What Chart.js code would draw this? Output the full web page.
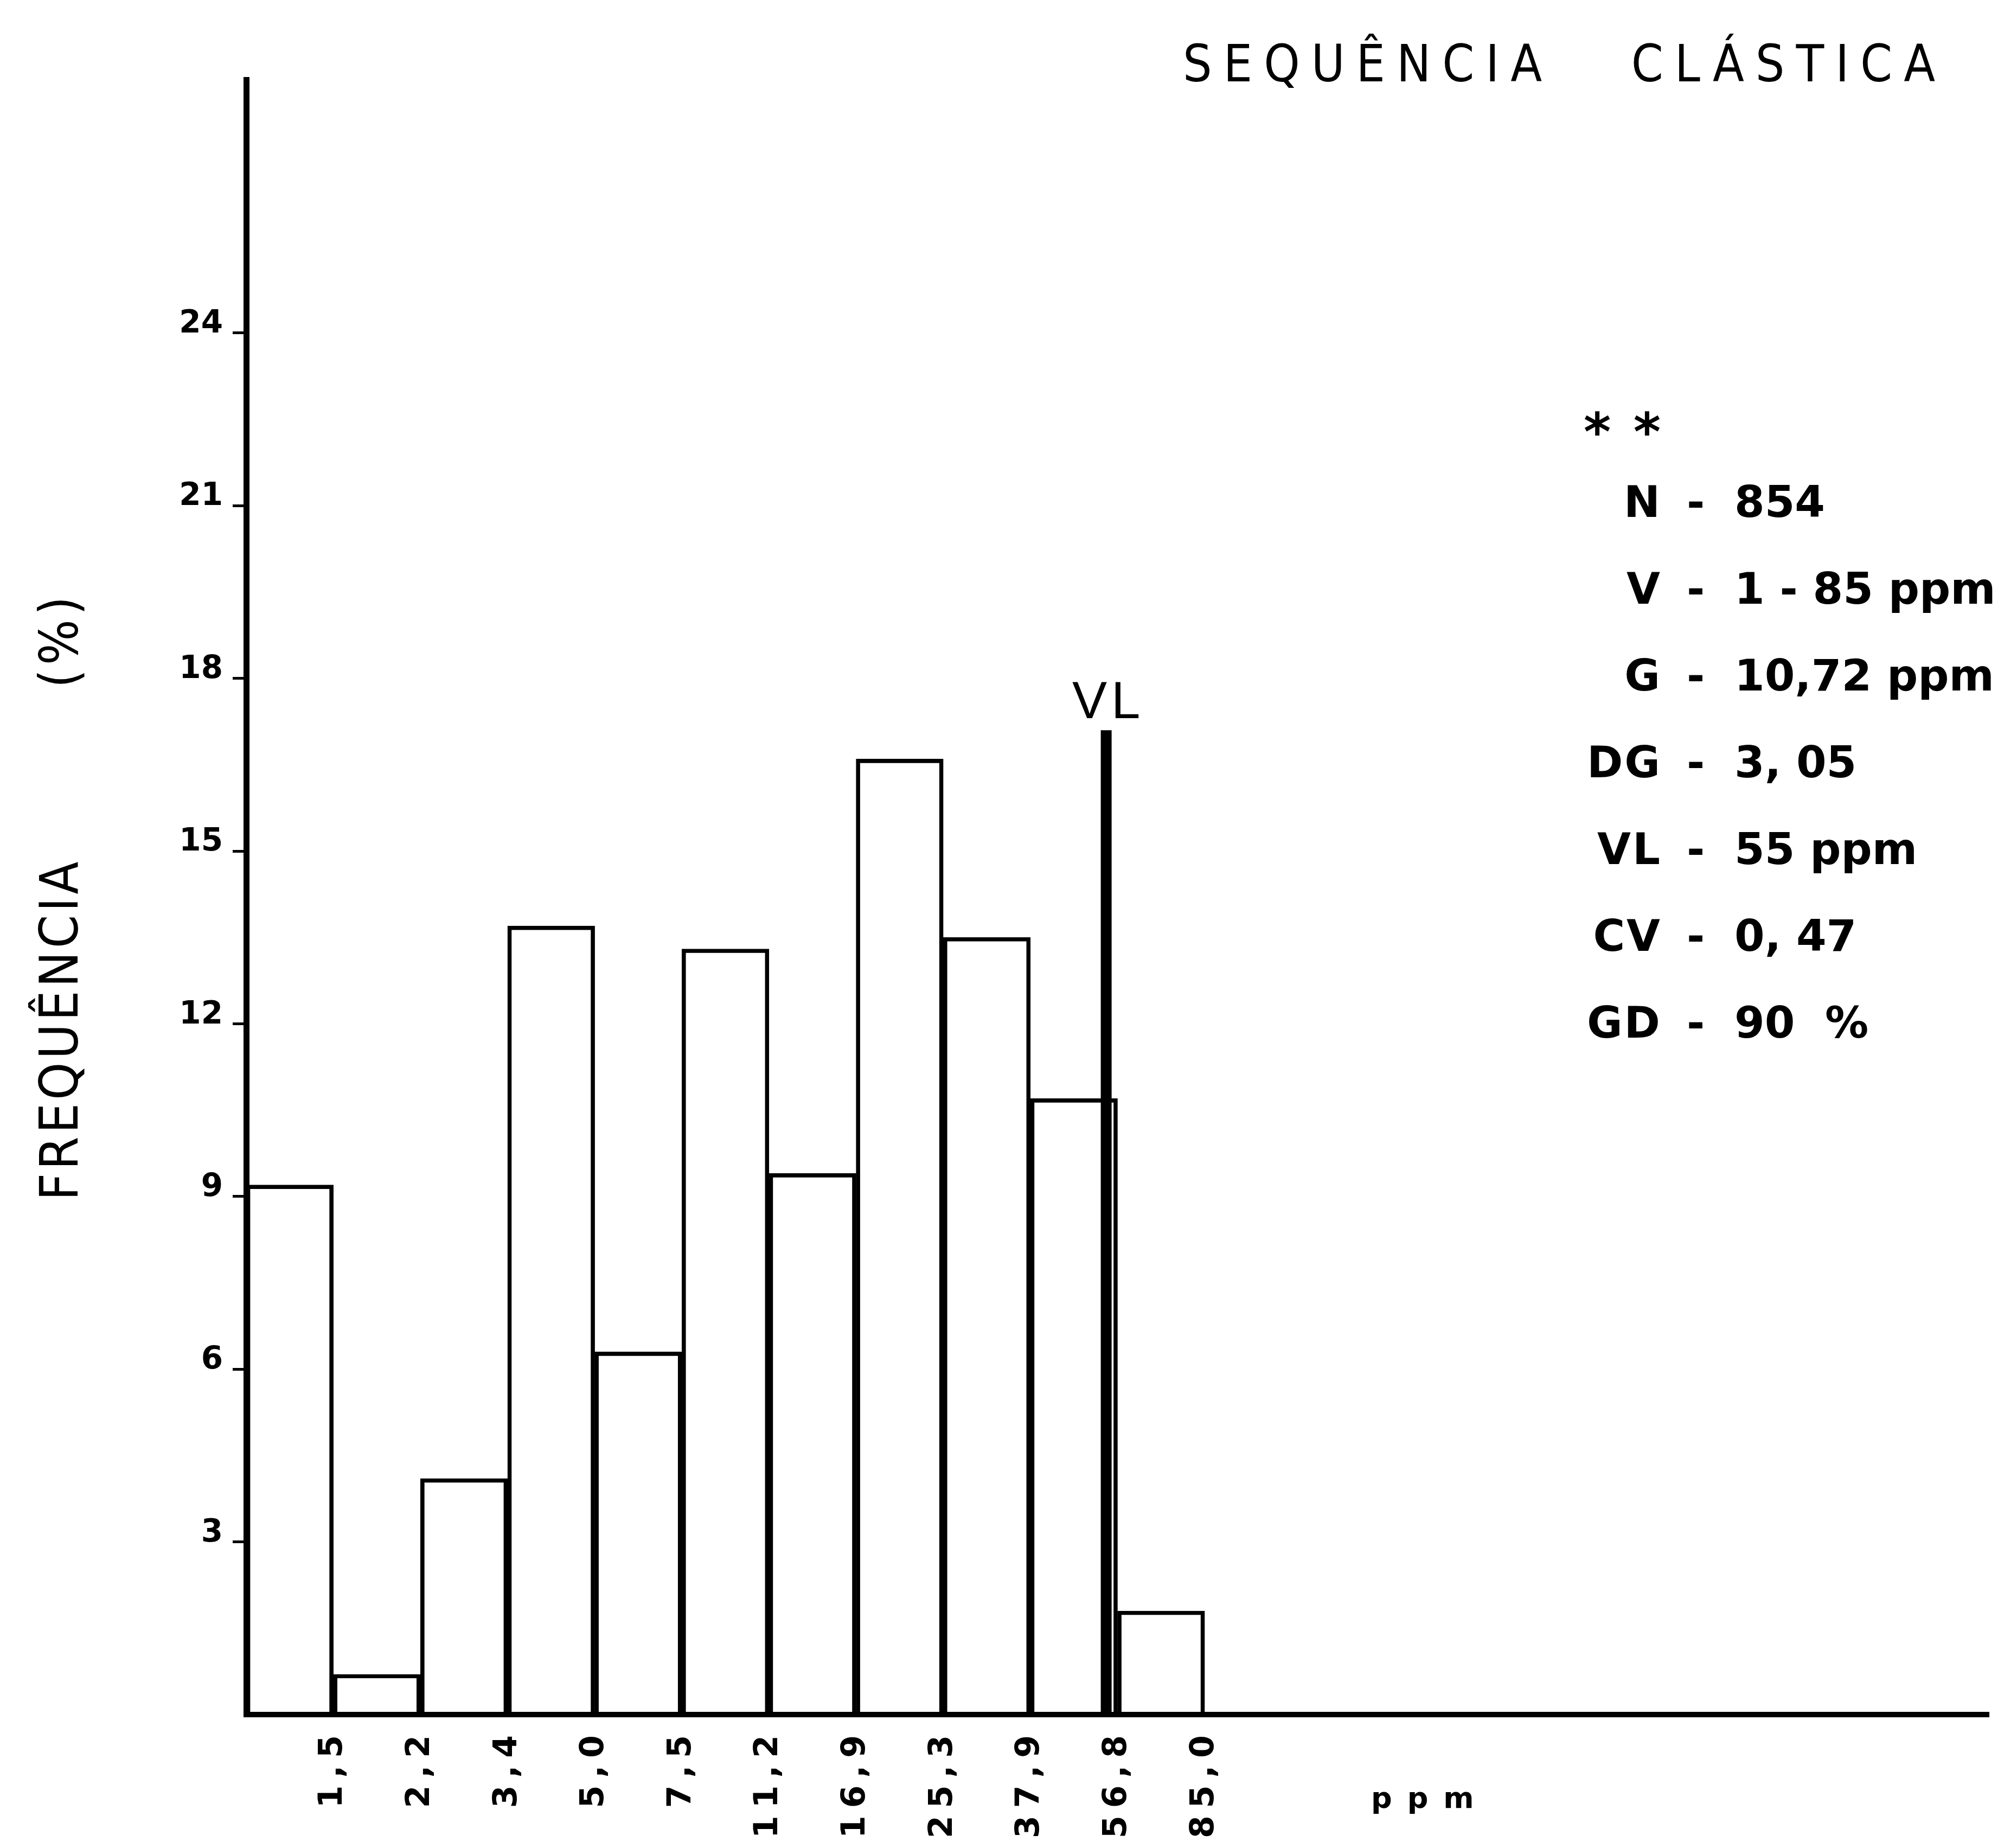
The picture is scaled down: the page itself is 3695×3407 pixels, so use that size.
<!DOCTYPE html>
<html>
<head>
<meta charset="utf-8">
<title>Sequência clástica</title>
<script src="https://cdn.jsdelivr.net/npm/chart.js@4.4.1/dist/chart.umd.min.js"></script>
<style>
  html, body { margin: 0; padding: 0; background: #fff; }
  canvas { display: block; }
</style>
</head>
<body>
<canvas id="grafico" width="3695" height="3407" style="width:3695px;height:3407px"></canvas>
<script>
// limite superior de cada classe (ppm)
const limites = ['1,5', '2,2', '3,4', '5,0', '7,5', '11,2', '16,9', '25,3', '37,9', '56,8', '85,0'];
// frequencia (%) de cada classe
const frequencias = [9.2, 0.7, 4.1, 13.7, 6.3, 13.3, 9.4, 16.6, 13.5, 10.7, 1.8];
const ticksY = [3, 6, 9, 12, 15, 18, 21, 24];
// VL: posicao (em classes) e altura da linha (%)
const posVL = 9.87;
const alturaVL = 17.1;
const rotulosEst = ['N', 'V', 'G', 'DG', 'VL', 'CV', 'GD'];
const valoresEst = ['854', '1 - 85 ppm', '10,72 ppm', '3, 05', '55 ppm', '0, 47', '90  %'];

const barras = frequencias.map((f, i) => ({ x: i + 0.5, y: f }));
const linhaVL = [{ x: posVL, y: 0 }, { x: posVL, y: alturaVL }];

const textos = {
    id: 'textos',
    beforeDraw(chart) {
        chart.ctx.letterSpacing = '0px';
    },
    afterDatasetsDraw(chart) {
        // espacamento para os rotulos do eixo x (desenhados depois, z: 1)
        chart.ctx.letterSpacing = '14px';
    },
    afterDraw(chart) {
        const ctx = chart.ctx;
        const sx = chart.scales.x, sy = chart.scales.y;
        ctx.save();
        ctx.fillStyle = '#000';
        ctx.textBaseline = 'alphabetic';

        // titulo
        ctx.letterSpacing = '21px';
        ctx.font = '94px "Liberation Sans Narrow", "DejaVu Sans Condensed", sans-serif';
        ctx.textAlign = 'left';
        ctx.fillText('SEQUÊNCIA   CLÁSTICA', 2181, 150);

        // titulo do eixo y
        ctx.font = '98px "Liberation Sans Narrow", "DejaVu Sans Condensed", sans-serif';
        ctx.textAlign = 'center';
        ctx.letterSpacing = '6px';
        ctx.save();
        ctx.translate(143, 1898);
        ctx.rotate(-Math.PI / 2);
        ctx.fillText('FREQUÊNCIA', 0, 0);
        ctx.restore();
        ctx.letterSpacing = '8px';
        ctx.save();
        ctx.translate(143, 1180);
        ctx.rotate(-Math.PI / 2);
        ctx.fillText('(%)', 0, 0);
        ctx.restore();

        // VL
        ctx.letterSpacing = '8px';
        ctx.font = '96px "Liberation Sans", sans-serif';
        ctx.fillText('VL', sx.getPixelForValue(posVL) + 4, sy.getPixelForValue(alturaVL) - 22);

        // unidade do eixo x
        ctx.letterSpacing = '28px';
        ctx.font = 'bold 54px "DejaVu Sans", sans-serif';
        ctx.fillText('ppm', sx.getPixelForValue(13.5) + 14, 3333);

        // estatisticas
        ctx.font = 'bold 96px "DejaVu Sans", sans-serif';
        ctx.letterSpacing = '4px';
        ctx.textAlign = 'left';
        ctx.fillText('* *', 2920, 830);
        ctx.font = 'bold 80px "DejaVu Sans", sans-serif';
        for (let i = 0; i < rotulosEst.length; i++) {
            let yy = 953 + i * 160;
            ctx.letterSpacing = '3px';
            ctx.textAlign = 'right';
            ctx.fillText(rotulosEst[i], 3064, yy);
            ctx.textAlign = 'center';
            ctx.fillText('-', 3128, yy);
            ctx.letterSpacing = '0px';
            ctx.textAlign = 'left';
            ctx.fillText(valoresEst[i], 3198, yy);
        }
        ctx.restore();
    }
};

new Chart(document.getElementById('grafico'), {
    type: 'bar',
    data: {
        datasets: [
            {
                type: 'line',
                data: linhaVL,
                borderColor: '#000',
                borderWidth: 20,
                borderCapStyle: 'butt',
                pointRadius: 0,
                order: 0
            },
            {
                type: 'bar',
                data: barras,
                borderColor: '#000',
                borderWidth: 7,
                borderSkipped: 'bottom',
                backgroundColor: 'rgba(0,0,0,0)',
                barPercentage: 1,
                categoryPercentage: 1,
                order: 1
            }
        ]
    },
    options: {
        responsive: false,
        animation: false,
        devicePixelRatio: 1,
        layout: { padding: { left: 0, right: 28, top: 147, bottom: 0 } },
        plugins: {
            legend: { display: false },
            tooltip: { enabled: false },
            title: { display: false }
        },
        scales: {
            x: {
                type: 'linear',
                min: 0,
                max: 20,
                offset: false,
                grid: { display: false, drawTicks: false, offset: false },
                border: { display: true, color: '#000', width: 10, z: 1 },
                afterBuildTicks: (s) => { s.ticks = limites.map((l, i) => ({ value: i + 1 })); },
                afterFit: (s) => { s.height = 246; },
                ticks: {
                    z: 1,
                    autoSkip: false,
                    maxRotation: 90,
                    minRotation: 90,
                    padding: 24,
                    color: '#000',
                    font: { family: '"DejaVu Sans", sans-serif', weight: 'bold', size: 60 },
                    callback: (v, i) => limites[i]
                }
            },
            y: {
                min: 0,
                max: 28.4,
                grid: {
                    display: true,
                    drawOnChartArea: false,
                    drawTicks: true,
                    tickLength: 25,
                    tickWidth: 5,
                    tickColor: '#000'
                },
                border: { display: true, color: '#000', width: 11, z: 1 },
                afterBuildTicks: (s) => { s.ticks = ticksY.map(v => ({ value: v })); },
                afterFit: (s) => { s.width = 454; },
                ticks: {
                    padding: 18,
                    labelOffset: -16,
                    color: '#000',
                    font: { family: '"DejaVu Sans", sans-serif', weight: 'bold', size: 58 },
                    callback: (v) => String(v)
                }
            }
        }
    },
    plugins: [textos]
});
</script>
</body>
</html>
